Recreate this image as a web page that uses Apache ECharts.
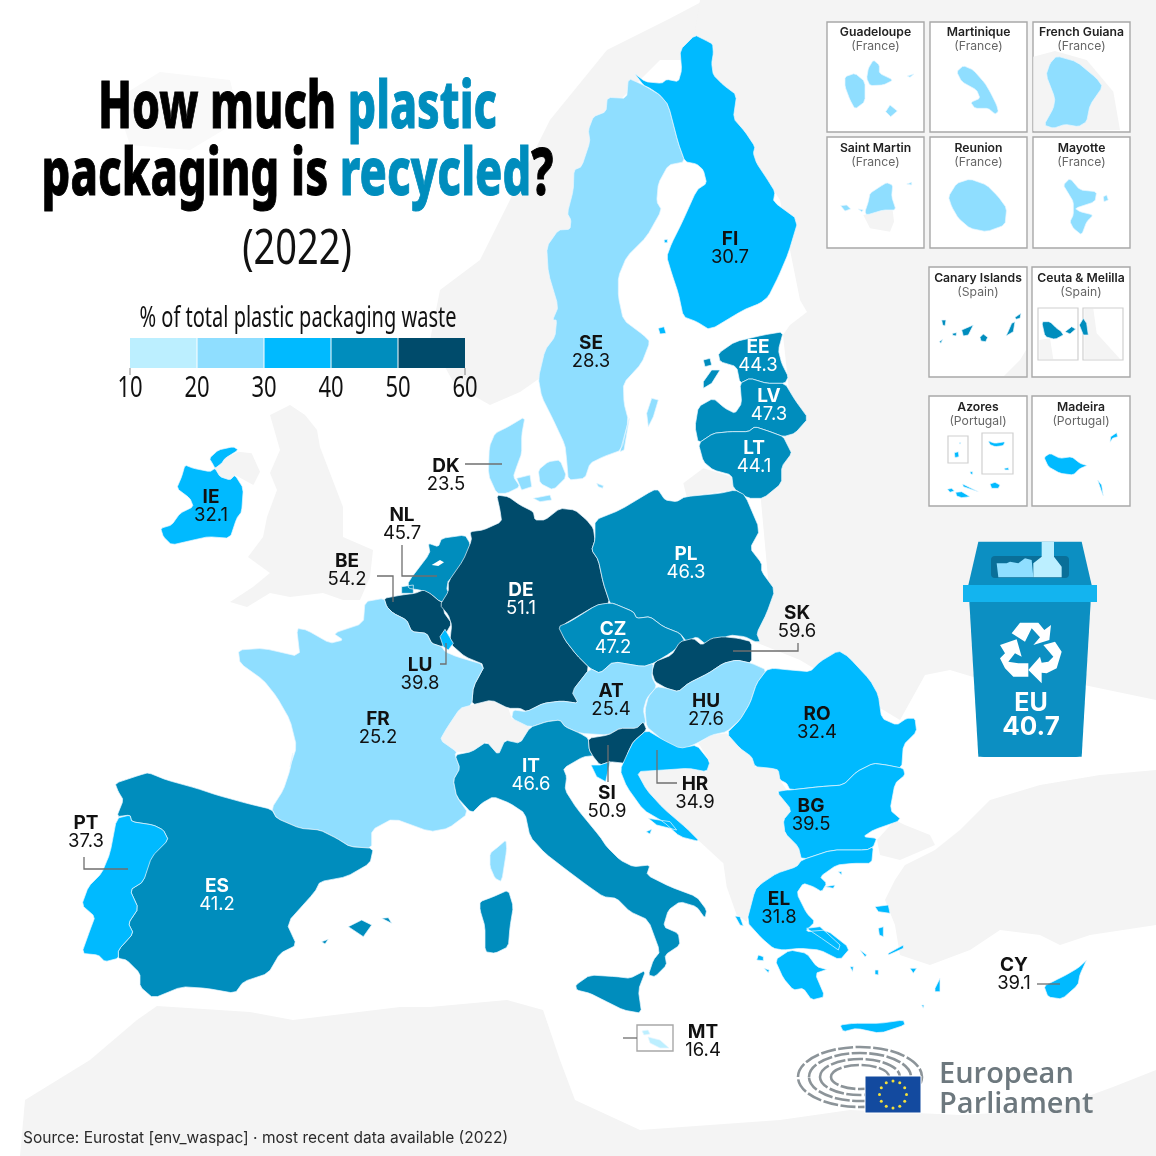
<!DOCTYPE html>
<html>
<head>
<meta charset="utf-8">
<title>How much plastic packaging is recycled?</title>
<script src="https://cdn.jsdelivr.net/npm/echarts@6/dist/echarts.min.js"></script>
<style>
  html, body { margin: 0; padding: 0; background: #fff; }
  #main { width: 1156px; height: 1156px; }
</style>
</head>
<body>
<div id="main"></div>
<script>
// chart data
const codes = ['SE', 'FI', 'EE', 'LV', 'LT', 'IE', 'DK', 'NL', 'BE', 'DE', 'PL', 'CZ', 'SK', 'AT', 'HU', 'RO', 'FR', 'LU', 'IT', 'SI', 'HR', 'BG', 'ES', 'PT', 'EL', 'CY', 'MT']
const values = [28.3, 30.7, 44.3, 47.3, 44.1, 32.1, 23.5, 45.7, 54.2, 51.1, 46.3, 47.2, 59.6, 25.4, 27.6, 32.4, 25.2, 39.8, 46.6, 50.9, 34.9, 39.5, 41.2, 37.3, 31.8, 39.1, 16.4]
const euAverage = 40.7
const legendTicks = [10, 20, 30, 40, 50, 60]
const legendColors = ['#bcefff', '#8fdeff', '#00baff', '#008dbd', '#004b6b']
const insetNames = [
  ['Guadeloupe', '(France)'], ['Martinique', '(France)'], ['French Guiana', '(France)'],
  ['Saint Martin', '(France)'], ['Reunion', '(France)'], ['Mayotte', '(France)'],
  ['Canary Islands', '(Spain)'], ['Ceuta & Melilla', '(Spain)'],
  ['Azores', '(Portugal)'], ['Madeira', '(Portugal)']
]

// labels sitting outside their country, always dark
const outsideLabels = ['DK', 'NL', 'BE', 'SK', 'LU', 'SI', 'HR', 'PT', 'CY', 'MT']
const labelCenters = {
  SE: [591, 352], FI: [730, 248], EE: [758, 356], LV: [769, 405], LT: [754, 457], IE: [211, 506], DK: [446, 475],
  NL: [402, 524], BE: [347, 570], DE: [521, 599], PL: [686, 563], CZ: [613, 638], SK: [797, 622], AT: [611, 700],
  HU: [706, 710], RO: [817, 723], FR: [378, 728], LU: [420, 674], IT: [531, 775], SI: [607, 802], HR: [695, 793],
  BG: [811, 815], ES: [217, 895], PT: [86, 832], EL: [779, 908], CY: [1014, 974], MT: [703, 1041]
}

const c = (ox, oy, a) => {
  const out = []
  for (let i = 0; i < a.length; i += 2) out.push([ox + a[i] / 3, oy + a[i + 1] / 3])
  return out
}
const p = (...a) => { // plain pixels
  const out = []
  for (let i = 0; i < a.length; i += 2) out.push([a[i], a[i + 1]])
  return out
}

const shapes = {
  SE: [
    [...c(480, 20, [445,175,490,195,540,225,565,255,595,370,615,425,565,435,535,490,530,545,545,570,500,650,440,710,415,770,415,830,430,900,490,945]),
     ...c(420, 320, [690,65,665,130,610,190,612,250,625,300,605,390,550,410,510,430,495,475,445,480,440,420,435,375,400,300,365,230,355,175,375,90,405,50,410,0]),
     ...c(480, 20, [218,900,235,860,205,760,200,680,235,630,270,628,273,600,262,580,280,510,282,450,305,440,330,365,325,330,340,290,378,275,382,232,440,235])],
    c(420, 320, [695,235,715,240,700,290,685,320,680,280]),
    c(420, 320, [628,295,612,390,600,395,615,340])
  ],
  FI: [
    c(480, 20, [645,45,675,60,698,72,700,100,695,130,700,165,730,195,770,225,760,295,795,335,825,380,820,400,830,430,860,475,885,515,880,545,955,600,925,700,895,770,865,830,840,850,790,870,690,930,650,905,610,890,595,820,575,760,560,710,575,670,605,610,650,510,680,490,670,450,650,432,615,425,595,370,565,255,540,225,510,205,490,195,460,155,495,185,545,190,560,178,595,185,605,150,600,90]),
    c(480, 20, [535,925,552,920,558,940,540,942]),
    c(480, 20, [552,660,562,658,562,668,554,668])
  ],
  EE: [
    c(420, 320, [895,100,945,65,1030,45,1090,35,1075,90,1085,130,1105,170,1095,190,1040,190,990,175,960,190,950,140,900,125]),
    c(420, 320, [850,185,875,150,900,150,875,190,850,205]),
    c(420, 320, [850,120,870,115,875,135,855,140])
  ],
  LV: [c(420, 320, [960,190,990,175,1040,190,1095,190,1125,240,1165,295,1125,340,1090,350,1050,335,1005,320,985,335,930,335,880,340,835,370,825,320,835,260,880,235,915,265,945,280,965,250])],
  LT: [c(420, 320, [835,370,880,340,930,335,985,335,1005,320,1050,335,1090,350,1105,380,1115,400,1085,440,1085,490,1030,535,985,535,940,505,935,465,880,450,850,425])],
  IE: [
    c(130, 430, [165,105,190,115,240,125,255,115,270,140,300,150,315,135,340,175,335,245,320,265,300,325,235,320,190,330,125,345,100,320,92,295,125,285,150,250,190,230,180,205,140,175,155,140]),
    c(130, 430, [238,85,265,60,310,50,325,60,285,85,275,100,255,115,250,105])
  ],
  DK: [
    c(420, 320, [315,290,305,345,305,400,290,440,280,470,300,500,260,520,230,520,205,465,208,380,225,340,265,320]),
    c(420, 320, [290,475,330,465,335,500,305,510]),
    c(420, 320, [355,450,385,425,420,420,440,470,400,510,360,490]),
    c(420, 320, [340,535,390,525,395,540,360,545]),
    c(420, 320, [530,490,550,497,548,505,535,500])
  ],
  DE: [[
    ...c(420, 320, [230,525,265,530,300,555,340,575,345,600,375,600,420,565,465,570,500,600,520,625,525,660,515,690,535,720,550,790,570,850,530,855,420,920]),
    ...c(430, 640, [405,0,440,45,480,85,430,150,445,190,395,183,340,190,290,215,270,205,235,205,185,180,125,195,130,140,165,75,105,50,65,15,60,0]),
    ...c(420, 320, [95,915,85,885,60,855,85,815,85,785,130,720,155,660,150,635,190,630,245,605,240,570])
  ]],
  NL: [
    c(130, 430, [835,455,900,370,895,340,925,350,935,325,1005,315,1020,340,1020,370,1000,390,1005,420,955,450,950,480,965,490,950,515,930,515,900,490,870,480,835,475]),
    c(130, 430, [815,470,850,465,850,490,815,490])
  ],
  BE: [c(130, 430, [762,505,815,495,855,490,880,480,900,490,930,515,950,515,940,545,965,580,945,615,950,640,935,650,905,640,890,610,845,605,830,570,790,550,770,530])],
  LU: [c(130, 430, [930,620,945,598,970,640,955,660,940,650])],
  FR: [
    [...c(130, 430, [705,515,762,505,770,530,790,550,830,570,845,605,890,610,905,640,935,650,945,665,980,680]),
     ...c(430, 640, [165,75,130,140,125,195,90,205,50,265,30,300,80,335,75,345,90,385,70,420,80,470,115,520,55,565,0,575]),
     ...c(60, 750, [1000,205,935,240,935,295,870,290,830,265,780,240,720,235,650,205,635,175,670,120,690,60,700,0]),
     ...c(130, 430, [478,1020,500,950,480,870,440,800,400,750,330,700,325,660,400,655,510,680,500,595,530,600,600,640,640,630,610,610,700,580])],
    c(430, 640, [228,600,230,630,215,725,195,715,180,680,180,640,205,620]),
    // overseas insets
    c(820, 15, [75,185,105,175,135,200,135,260,105,282,90,255,75,215]),
    c(820, 15, [145,160,160,135,178,150,178,175,220,195,190,210,150,212,140,190]),
    c(820, 15, [197,290,210,270,232,288,212,305]),
    c(820, 15, [262,183,282,177,270,187]),
    c(820, 15, [410,170,430,152,460,165,495,205,510,230,530,270,535,290,525,297,505,280,465,280,452,262,480,250,470,225,425,200]),
    c(820, 15, [710,123,770,140,830,190,848,215,810,270,800,320,775,335,735,328,700,340,672,330,700,280,705,250,678,180,690,145]),
    c(820, 15, [145,560,150,535,180,515,200,503,218,510,215,545,228,585,190,585,140,600,135,590]),
    c(820, 15, [62,572,80,570,92,582,75,588]),
    c(820, 15, [115,582,130,585,125,590]),
    c(820, 15, [260,507,275,502,275,510]),
    c(820, 15, [385,545,410,505,450,492,500,510,535,545,560,580,555,630,500,650,450,640,415,610,395,575]),
    c(820, 15, [730,510,750,490,780,525,830,530,825,560,765,580,780,590,820,600,800,620,785,660,760,640,750,620,760,600,760,560,745,535]),
    c(820, 15, [850,545,860,540,865,555,852,560])
  ],
  IT: [
    c(430, 640, [75,345,125,335,170,305,205,345,225,300,270,310,300,262,350,245,390,240,405,260,450,280,475,295,478,330,490,350,460,350,400,385,410,410,405,450,440,505,510,590,530,620,570,660,610,680,660,675,650,705,720,740,800,770,830,810,825,835,800,800,750,785,715,810,700,860,745,880,750,915,705,945,710,975,675,1010,655,1005,670,960,690,935,655,840,600,815,560,775,520,770,470,735,410,690,345,640,300,590,285,520,240,490,190,470,155,490,125,520,80,470,70,420,90,385]),
    c(430, 640, [437,1035,480,1005,560,1010,600,1015,648,990,625,1050,635,1120,580,1110,520,1080,480,1060,440,1050]),
    c(430, 640, [150,785,190,770,235,750,250,800,240,860,235,920,195,940,165,935,165,860,150,810])
  ],
  AT: [c(430, 640, [425,155,480,85,510,100,550,65,640,80,670,70,665,110,680,140,650,175,640,210,648,250,620,265,570,265,535,285,450,280,405,260,390,240,350,245,300,262,245,235,250,210,290,215,340,190,395,183,445,190])],
  SI: [c(430, 640, [475,295,535,285,570,265,620,265,640,245,650,270,610,305,595,335,585,370,540,365,510,375,490,350,478,330])],
  CZ: [[
    ...c(420, 320, [415,920,450,905,530,855,560,850,580,850,640,875,650,895,690,890,730,920,780,940,795,965]),
    ...c(430, 640, [720,40,670,70,640,80,550,65,510,100,480,85,440,45,405,0])
  ]],
  PL: [c(420, 320, [525,600,600,570,700,510,715,510,735,540,770,545,795,530,900,520,945,510,975,525,1020,630,990,685,1025,730,1025,755,1065,810,1040,880,1010,940,1020,965,1005,965,975,950,930,945,880,970,860,975,830,950,800,965,780,940,730,920,690,890,650,895,640,875,580,850,570,850,550,790,535,720,515,690,525,660])],
  SK: [c(640, 620, [35,155,45,125,95,105,120,65,160,55,185,75,215,55,250,50,295,55,335,65,335,130,290,120,250,130,205,160,145,190,115,215,80,205,45,185])],
  HU: [c(640, 620, [50,200,80,205,115,215,145,190,205,160,250,130,290,120,335,130,380,150,350,190,330,250,300,300,260,335,215,345,170,370,135,385,90,380,50,345,20,320,15,270,25,230])],
  HR: [
    c(430, 640, [610,305,650,270,700,300,750,325,800,315,840,365,830,395,775,385,700,390,620,395,650,450,700,505,770,565,810,605,750,590,700,545,640,510,590,440,570,390,595,335]),
    c(430, 640, [483,375,510,375,540,365,527,425,500,410]),
    c(430, 640, [655,535,720,545,740,570,680,555]),
    c(430, 640, [648,575,665,568,660,582])
  ],
  RO: [c(640, 620, [260,340,300,300,330,250,350,190,380,150,400,145,450,150,510,155,540,125,595,92,625,110,690,180,715,225,725,295,770,315,800,295,825,295,830,335,790,375,785,445,740,435,700,430,650,455,610,495,540,500,450,510,440,490,420,480,415,450,395,445,345,440,335,410,300,385])],
  BG: [c(640, 620, [440,510,450,510,540,500,610,495,650,455,700,430,740,435,790,445,795,465,765,490,750,570,785,600,700,630,670,650,710,655,700,680,680,690,575,690,485,720,475,680,435,640,430,600,455,570,410,515])],
  EL: [
    c(640, 620, [485,720,575,690,680,690,700,680,695,730,640,730,590,735,540,770,560,790,545,815,520,800,490,790,470,820,500,880,525,905,495,935,560,930,630,985,600,1020,540,990,480,985,430,990,400,985,365,955,320,905,345,810,365,790,410,760,470,740]),
    c(640, 620, [405,1020,450,990,500,1000,530,1040,565,1050,525,1060,555,1130,515,1140,490,1105,460,1110,430,1075]),
    c(640, 620, [600,1215,640,1210,720,1210,790,1200,795,1215,720,1240,650,1225,610,1235]),
    c(640, 620, [500,925,540,920,600,975,595,990,545,955]),
    c(640, 620, [705,860,745,855,750,880,715,875]),
    c(640, 620, [715,925,730,920,730,950,718,945]),
    c(640, 620, [285,888,300,890,310,918,300,915]),
    c(640, 620, [355,1005,370,1010,370,1022,350,1020]),
    c(640, 620, [372,1045,388,1050,385,1058]),
    c(640, 620, [595,755,605,755,605,765]),
    c(640, 620, [885,1105,900,1075,900,1115,885,1115]),
    c(640, 620, [705,1050,715,1050,715,1065,705,1063]),
    c(640, 620, [630,1040,640,1040,638,1055]),
    c(640, 620, [810,1045,830,1045,820,1060]),
    c(640, 620, [745,1000,790,975,790,985,745,1005]),
    c(640, 620, [660,990,680,1005,675,1010]),
    c(640, 620, [555,800,585,795,580,805]),
    c(640, 620, [845,1155,852,1155,850,1165])
  ],
  ES: [
    c(60, 750, [165,100,240,75,265,68,320,90,410,115,470,135,560,160,635,178,650,205,720,235,780,240,830,265,870,290,940,295,930,340,860,380,780,395,765,425,680,520,710,585,660,610,625,670,550,695,525,730,440,715,365,710,280,745,240,710,240,670,200,630,175,625,175,600,220,550,205,520,235,475,210,420,250,395,270,320,325,270,310,240,280,225,215,215,210,195,170,200,190,150,175,125]),
    c(60, 750, [865,530,905,510,935,525,910,560]),
    c(60, 750, [965,505,985,503,995,520]),
    c(60, 750, [785,575,805,568,795,582]),
    // Canary Islands
    c(920, 260, [65,180,78,180,75,198,68,195]),
    c(920, 260, [125,210,160,195,145,225,130,228]),
    c(920, 260, [98,220,110,218,108,228,98,226]),
    c(920, 260, [180,232,190,222,203,232,197,245,183,243]),
    c(920, 260, [262,220,275,190,285,185,280,215,258,228]),
    c(920, 260, [285,172,303,160,300,175,288,178]),
    c(920, 260, [58,245,68,238,63,250]),
    // Ceuta, Melilla
    c(920, 260, [365,185,390,185,410,205,425,215,430,225,405,238,375,230]),
    c(920, 260, [435,215,455,200,467,207,450,222]),
    c(920, 260, [478,195,490,175,500,190,505,225,490,225])
  ],
  PT: [
    c(60, 750, [170,205,210,195,215,215,280,225,310,240,325,270,275,320,250,395,210,420,235,475,205,520,220,550,175,600,175,625,135,635,115,615,65,610,90,540,105,500,65,465,85,410,125,370,150,310]),
    // Azores
    c(920, 260, [118,548,123,548,120,553]),
    c(920, 260, [103,578,115,575,117,590,105,593]),
    c(920, 260, [205,543,225,550,255,545,250,557,225,560,208,553]),
    c(920, 260, [253,625,265,623,267,630,255,630]),
    c(920, 260, [150,635,158,635,158,643,152,642]),
    c(920, 260, [128,672,175,695,172,698,130,680]),
    c(920, 260, [210,672,225,667,240,675,235,685,215,685]),
    c(920, 260, [82,688,95,685,103,693,90,697]),
    c(920, 260, [107,697,125,695,150,710,125,713,110,708]),
    // Madeira
    c(920, 260, [372,592,390,580,420,595,455,590,480,610,505,618,480,625,460,645,420,640,385,620]),
    c(920, 260, [572,530,590,518,593,530,578,535,570,547]),
    c(920, 260, [533,660,545,675,550,708,543,690])
  ],
  CY: [p(1044,986,1056,980,1066,975,1078,968,1088,959,1080,974,1078,985,1062,999,1048,997)],
  MT: [p(648,1037,660,1040,669,1048,660,1048,650,1043), p(642,1031,648,1030,650,1034,644,1035)]
}

// neighbours in light grey, drawn first
const lands = [
  p(705,0,667,20,607,50,550,120,480,260,440,290,430,340,455,385,490,405,520,392,540,378,557,340,575,250,600,120,640,80,660,60,690,60),
  p(700,0,690,60,780,200,800,300,807,312,790,325,783,335,790,400,780,470,760,490,770,600,750,640,800,660,900,720,925,675,950,670,1000,685,1060,680,1156,700,1156,0),
  c(420, 320, [790,490,850,445,935,470,945,510,800,530]),
  p(877,840,895,820,905,825,930,835,935,845,900,860,880,855),
  p(1156,770,1100,775,1040,785,990,800,960,830,935,850,905,865,895,880,885,900,895,925,900,955,930,965,970,950,1000,930,1040,935,1060,945,1090,935,1156,925),
  c(640, 620, [175,370,215,345,260,340,300,385,335,410,345,440,395,445,415,450,420,480,440,510,410,515,455,570,430,600,435,640,475,680,485,720,470,740,410,760,365,790,345,810,320,905,290,885,260,800,250,730,180,665,120,625,50,550,0,480,-10,455,70,450,145,445,200,455,210,425]),
  c(430, 640, [30,300,50,265,90,205,185,180,235,205,245,235,300,262,270,310,225,300,205,345,170,305,125,335,80,335]),
  c(130, 430, [255,115,275,100,285,85,325,65,365,70,390,125,370,165,315,135,300,150,270,140]),
  p(270,415,290,405,305,415,317,430,320,447,343,507,343,537,373,550,370,577,360,600,343,600,323,593,290,597,270,593,247,607,230,602,253,587,270,573,248,557,263,537,267,517,277,490,270,473,280,450),
  p(20,1156,25,1100,90,1060,137,1020,157,1006,250,1012,293,1020,400,1007,430,1007,507,1000,543,1010,560,1060,575,1100,640,1130,780,1120,850,1110,960,1115,1050,1110,1113,1087,1156,1070,1156,1156)
]
const iceland = p(115,100,160,72,230,80,240,120,190,150,130,145)

const frames = [
  [827,22,924,132], [930,22,1027,132], [1033,22,1130,132],
  [827,137,924,248], [930,137,1027,248], [1033,137,1130,248],
  [929,267,1027,377], [1032,267,1130,377],
  [929,396,1027,506], [1032,396,1130,506],
  [637,1025,673,1051]
]
const subFrames = [
  [1038,308,1078,360], [1083,308,1123,360],
  [948,436,968,463], [982,433,1013,474]
]
const insetLands = [
  c(820, 15, [640,125,705,108,800,135,880,230,900,345,640,348]),
  c(820, 15, [130,600,190,585,218,585,222,620,210,650,150,640]),
  c(920, 260, [252,348,300,300,318,270,318,348]),
  c(920, 260, [358,240,390,235,400,298,358,298]),
  c(920, 260, [493,146,520,146,530,220,600,297,493,297])
]
const whites = [c(130, 430, [905,405,930,390,942,397,925,408])]

// light corner cutting so the traced outlines lose their sharp facets
const soften = ring => {
  if (ring.length < 6) return ring
  const out = []
  ring.forEach((a, i) => {
    const b = ring[(i + 1) % ring.length]
    out.push([a[0] * 0.85 + b[0] * 0.15, a[1] * 0.85 + b[1] * 0.15])
    out.push([a[0] * 0.15 + b[0] * 0.85, a[1] * 0.15 + b[1] * 0.85])
  })
  return out
}
const rect = b => [[b[0],b[1]],[b[2],b[1]],[b[2],b[3]],[b[0],b[3]]]
const feature = (name, polys, cp) => ({
  type: 'Feature',
  properties: cp ? { name, cp } : { name },
  geometry: { type: 'MultiPolygon', coordinates: polys.map(r => [r]) }
})

const sans = 'Inter, "Noto Sans", sans-serif'
const titleFont = '"Noto Sans", sans-serif'

const features = []
const regions = []
lands.forEach((r, i) => features.push(feature('land' + i, [r])))
features.push(feature('iceland', [iceland]))
regions.push({ name: 'iceland', itemStyle: { areaColor: '#f9f9f9', borderColor: '#f9f9f9' } })
frames.forEach((b, i) => {
  features.push(feature('frame' + i, [rect(b)]))
  regions.push({ name: 'frame' + i, itemStyle: { areaColor: '#fff', borderColor: '#a8a8a8', borderWidth: 1.4 } })
})
insetLands.forEach((r, i) => features.push(feature('inset' + i, [r])))
subFrames.forEach((b, i) => {
  features.push(feature('sub' + i, [rect(b)]))
  regions.push({ name: 'sub' + i, itemStyle: { areaColor: 'rgba(0,0,0,0)', borderColor: '#d0d0d0', borderWidth: 1.2 } })
})
codes.forEach((code, i) => {
  features.push(feature(code, shapes[code].map(soften), labelCenters[code]))
  const dark = values[i] < 40 || outsideLabels.indexOf(code) >= 0
  regions.push({
    name: code,
    itemStyle: { borderColor: '#e8f7ff', borderWidth: 0.7 },
    label: {
      show: true,
      formatter: '{k|' + code + '}\n{v|' + values[i].toFixed(1) + '}',
      rich: {
        k: { fontFamily: sans, fontSize: 19, fontWeight: 700, lineHeight: 18, color: dark ? '#111' : '#fff' },
        v: { fontFamily: sans, fontSize: 18.5, fontWeight: 400, lineHeight: 18, color: dark ? '#111' : '#fff' }
      }
    }
  })
})
whites.forEach((r, i) => {
  features.push(feature('white' + i, [r]))
  regions.push({ name: 'white' + i, itemStyle: { areaColor: '#fff', borderWidth: 0 } })
})
echarts.registerMap('europe', { type: 'FeatureCollection', features })

const seriesData = codes.map((code, i) => ({ name: code, value: values[i] }))

// everything that isn't the map itself
const graphics = []
const text = (x, y, str, fontSize, opt) => graphics.push({
  type: 'text', x, y, z: 100, silent: true,
  scaleX: (opt && opt.scaleX) || 1,
  style: {
    text: str, fontSize,
    fontFamily: (opt && opt.font) || sans,
    fontWeight: (opt && opt.weight) || 400,
    fill: (opt && opt.fill) || '#111',
    align: (opt && opt.align) || 'center',
    verticalAlign: 'middle',
    rich: opt && opt.rich
  }
})
const poly = (points, fill, z) => graphics.push({ type: 'polygon', z: z || 100, silent: true, shape: { points }, style: { fill } })
const leader = points => graphics.push({ type: 'polyline', z: 100, silent: true, shape: { points }, style: { stroke: '#6f6f6f', lineWidth: 1.3, fill: null } })

// title
const titleRich = w => ({
  k: { fontFamily: titleFont, fontWeight: 800, fontSize: w, fill: '#000', stroke: '#000', lineWidth: 1 },
  h: { fontFamily: titleFont, fontWeight: 800, fontSize: w, fill: '#008dbd', stroke: '#008dbd', lineWidth: 1 }
})
text(297.5, 109, '{k|How much }{h|plastic}', 66, { scaleX: 0.675, rich: titleRich(66) })
text(297.5, 176, '{k|packaging is }{h|recycled}{k|?}', 66, { scaleX: 0.684, rich: titleRich(66) })
text(297, 250, '(2022)', 50, { font: titleFont, scaleX: 0.76 })
text(298, 319, '% of total plastic packaging waste', 29, { font: titleFont, scaleX: 0.69 })

// legend ticks
legendTicks.forEach((t, i) => {
  const x = 130 + i * 67
  graphics.push({ type: 'line', z: 100, silent: true, shape: { x1: x, y1: i === 0 || i === 5 ? 368 : 338, x2: x, y2: 375 }, style: { stroke: i === 0 || i === 5 ? '#888' : '#fff', lineWidth: 1 } })
  text(x, 389, String(t), 29, { font: titleFont, scaleX: 0.76 })
})

// leader lines
leader(p(465,464,502,464))
leader(p(402,545,402,576,437,576))
leader(p(377,576,393,576,393,602))
leader(p(440,664,446,664,446,643))
leader(p(733,651,798,651,798,643))
leader(p(657,750,657,783,677,783))
leader(p(608,745,608,782))
leader(p(84,857,84,869,128,869))
leader(p(1037,984,1060,984))
leader(p(623,1038,637,1038))

// inset captions
const captionX = [875.5, 978.5, 1081.5, 875.5, 978.5, 1081.5, 978, 1081, 978, 1081]
const captionY = [32, 32, 32, 148, 148, 148, 278, 278, 407, 407]
insetNames.forEach((n, i) => {
  text(captionX[i], captionY[i], n[0], 12.2, { weight: 600, fill: '#222' })
  text(captionX[i], captionY[i] + 14, n[1], 12.2, { fill: '#666' })
})

// bin
poly(c(950, 530, [85,35,395,35,425,165,55,165]), '#0c8fc2', 90)
graphics.push({ type: 'rect', z: 91, silent: true, shape: { x: 991, y: 556, width: 78, height: 22, r: 4 }, style: { fill: '#0a6f99' } })
poly(c(950, 530, [140,100,170,100,180,95,205,100,225,85,245,90,250,142,145,142]), '#8fdeff', 92)
poly(c(950, 530, [275,35,312,35,312,80,335,110,335,142,250,142,250,100,275,80]), '#bcefff', 93)
graphics.push({ type: 'polygon', z: 94, silent: true, shape: { points: c(950, 530, [58,215,422,215,395,680,85,680]) }, style: { fill: '#0c8fc2' } })
graphics.push({ type: 'rect', z: 94, silent: true, shape: { x: 978, y: 745, width: 104, height: 12, r: [0, 0, 6, 6] }, style: { fill: '#0c8fc2' } })
graphics.push({ type: 'rect', z: 95, silent: true, shape: { x: 963, y: 585, width: 134, height: 17 }, style: { fill: '#13b4ef' } })
poly(c(950, 530, [185,310,210,278,265,278,283,300,303,285,298,330,250,345,270,322,245,295,225,335]), '#fff', 96)
poly(c(950, 530, [150,345,200,328,215,380,195,370,175,395,205,400,235,400,235,440,190,440,165,415,150,385,165,370]), '#fff', 96)
poly(c(950, 530, [315,335,335,365,320,415,290,430,275,428,275,460,235,420,270,380,275,398,295,395,310,380,280,345]), '#fff', 96)
text(1031, 703, 'EU', 25, { weight: 700, fill: '#fff' })
text(1031, 727, String(euAverage), 26, { weight: 700, fill: '#fff' })

// European Parliament logo
;[[62, 30], [51, 24], [40, 18], [29, 12]].forEach(r => {
  graphics.push({ type: 'ellipse', z: 90, silent: true, shape: { cx: 860, cy: 1077, rx: r[0], ry: r[1] }, style: { fill: null, stroke: '#8c9499', lineWidth: 2.6, lineDash: [15, 2.5] } })
})
graphics.push({ type: 'rect', z: 91, silent: true, shape: { x: 865, y: 1076, width: 56, height: 37 }, style: { fill: '#134a9f', stroke: '#fff', lineWidth: 1 } })
for (let i = 0; i < 12; i++) {
  const a = i * Math.PI / 6
  graphics.push({ type: 'circle', z: 92, silent: true, shape: { cx: 893 + 13.5 * Math.cos(a), cy: 1094.5 + 13.5 * Math.sin(a), r: 1.5 }, style: { fill: '#f3e03b' } })
}
text(939, 1075, 'European', 29, { font: '"Open Sans", sans-serif', weight: 600, fill: '#6d787e', align: 'left' })
text(939, 1105, 'Parliament', 29, { font: '"Open Sans", sans-serif', weight: 600, fill: '#6d787e', align: 'left' })

// source
text(23, 1138, 'Source: Eurostat [env_waspac] · most recent data available (2022)', 15.5, { align: 'left', fill: '#2b2b2b' })

const myChart = echarts.init(document.getElementById('main'), null, { renderer: 'canvas' })
myChart.setOption({
  backgroundColor: '#fff',
  animation: false,
  geo: {
    map: 'europe',
    projection: { project: pt => pt, unproject: pt => pt },
    boundingCoords: [[0, 0], [1156, 1156]],
    left: 0, top: 0, width: 1156, height: 1156,
    silent: true,
    roam: false,
    label: { show: false },
    itemStyle: { areaColor: '#f4f4f4', borderWidth: 0, borderColor: '#f4f4f4' },
    regions
  },
  visualMap: {
    type: 'piecewise',
    show: true,
    orient: 'horizontal',
    left: 130, top: 338,
    padding: 0,
    itemWidth: 67, itemHeight: 30, itemGap: 0, textGap: 0,
    itemSymbol: 'rect',
    selectedMode: false,
    hoverLink: false,
    showLabel: false,
    seriesIndex: 0,
    pieces: legendColors.map((color, i) => ({ min: legendTicks[i], max: legendTicks[i + 1], color, label: '' }))
  },
  series: [{
    type: 'map',
    geoIndex: 0,
    silent: true,
    data: seriesData
  }],
  graphic: graphics
})
</script>
</body>
</html>
